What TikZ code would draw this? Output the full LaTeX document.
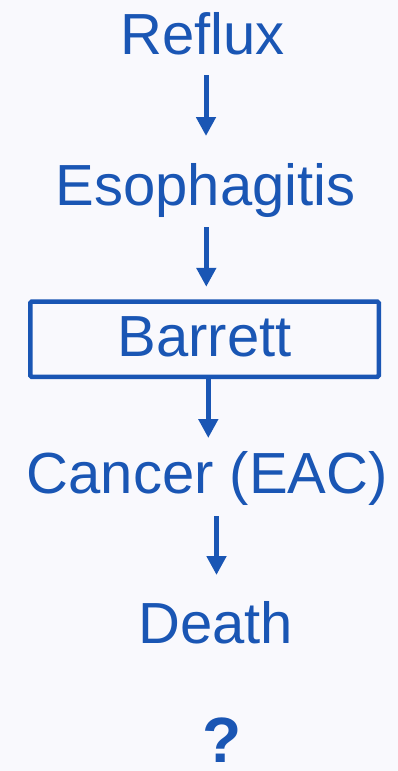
\documentclass[tikz,border=0pt]{standalone}
\usepackage{fontspec}
\setmainfont{Liberation Sans}
\usetikzlibrary{arrows.meta}

\definecolor{pathblue}{HTML}{1A56B4}
\definecolor{paper}{HTML}{F9F9FD}

\begin{document}
\begin{tikzpicture}[
  x=1pt, y=-1pt,
  font=\fontsize{58}{70}\selectfont,
  >={Triangle[length=19pt,width=19pt]},
  stage/.style={text=pathblue, inner sep=0pt, anchor=base},
  keybox/.style={draw=pathblue, line width=4.5pt, rounded corners=1.5pt, text=pathblue,
    minimum width=348.5pt, minimum height=75.3pt, text height=35pt, text depth=0pt},
  flow/.style={->, draw=pathblue, line width=5pt}
]
\fill[paper] (0,0) rectangle (398,771);

\node[stage] (refl) at (202.5,54) {Reflux};
\node[stage] (eso) at (205.7,205) {Esophagitis};
\node[keybox] (barr) at (204.5,339.2) {Barrett};
\node[stage] (eac) at (207.2,493.3) {Cancer (EAC)};
\node[stage] (death) at (215.7,643.3) {Death};
\node[stage, font=\fontsize{64}{70}\selectfont\bfseries] (unk) at (222,762) {?};

\draw[flow, shorten <=21pt, shorten >=69pt] ([xshift=3.5pt]refl.base) -- ([xshift=3.5pt]refl.base |- eso.base);
\draw[flow, shorten <=22pt, shorten >=12.5pt] ([xshift=0.6pt]eso.base) -- ([xshift=0.6pt]eso.base |- barr.north);
\draw[flow, shorten >=55.3pt] ([xshift=3.8pt]barr.south) -- ([xshift=3.8pt]barr.south |- eac.base);
\draw[flow, shorten <=22.7pt, shorten >=68.3pt] ([xshift=9.3pt]eac.base) -- ([xshift=9.3pt]eac.base |- death.base);
\end{tikzpicture}
\end{document}
